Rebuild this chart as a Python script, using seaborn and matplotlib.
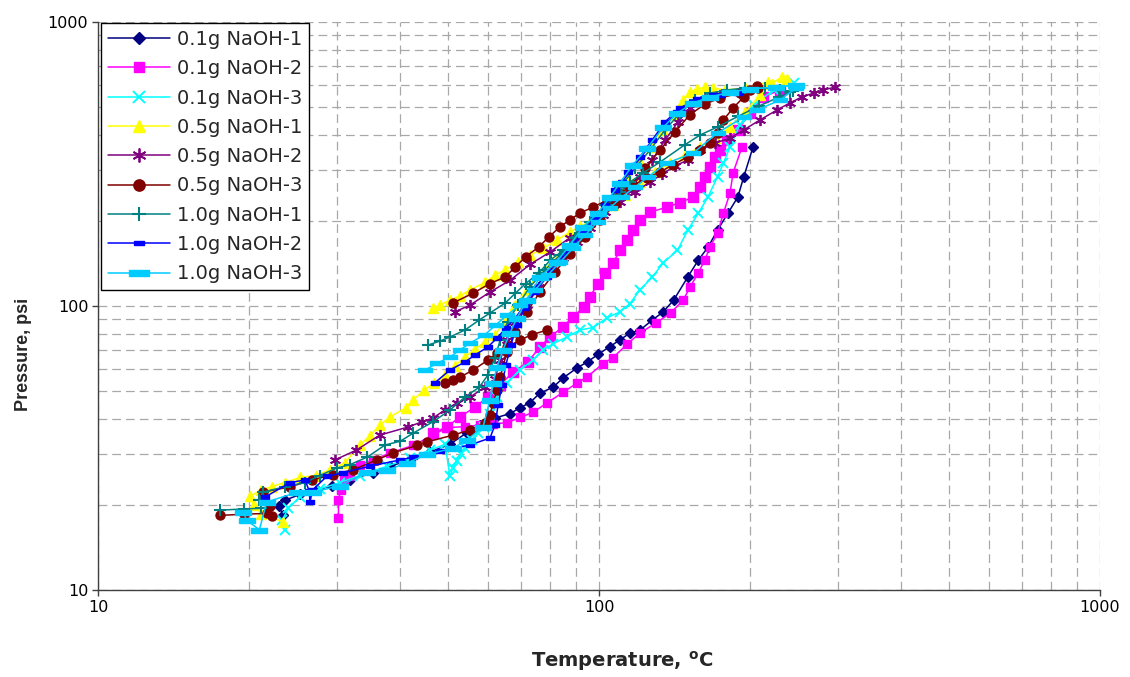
import numpy as np
import matplotlib
matplotlib.use("Agg")
import matplotlib.pyplot as plt
import seaborn as sns
from matplotlib.ticker import FixedLocator, FixedFormatter, LogLocator, NullFormatter

# ---------------- data ----------------
labels = ["0.1g NaOH-1", "0.1g NaOH-2", "0.1g NaOH-3",
          "0.5g NaOH-1", "0.5g NaOH-2", "0.5g NaOH-3",
          "1.0g NaOH-1", "1.0g NaOH-2", "1.0g NaOH-3"]

x_ticks = [10, 100, 1000]
x_tick_labels = ["10", "100", "1000"]
y_ticks = [10, 100, 1000]
y_tick_labels = ["10", "100", "1000"]

# 0.1g NaOH-1
t_01g_1 = [23.4, 23.0, 23.6, 25.3, 27.4, 29.3, 31.8, 35.4, 38.3, 42.0, 46.0, 50.4, 54.5, 57.9, 62.0, 66.4,
           69.6, 72.8, 76.2, 81.0, 84.9, 90.5, 94.9, 99.5, 105.2, 110.1, 115.3, 120.7, 127.8, 134.2, 141.0,
           150.4, 157.8, 165.0, 172.4, 180.8, 189.3, 194.5, 203.0]
p_01g_1 = [18.3, 19.7, 20.7, 21.7, 22.5, 23.3, 24.4, 25.9, 27.3, 28.7, 30.6, 32.6, 35.8, 38.1, 40.3, 41.8,
           43.8, 45.7, 49.3, 51.8, 55.9, 60.6, 63.6, 67.5, 72.0, 76.0, 80.3, 82.2, 89.3, 95.2, 105,
           126.5, 145, 161, 185, 212, 242, 285, 363]

# 0.1g NaOH-2 (two runs)
t_01g_2a = [30.2, 30.2, 30.5, 31.0, 31.8, 33.3, 35.4, 38.3, 42.6, 46.6, 49.7, 54.0, 57.9, 61.5, 65.5, 69.6,
            73.8, 78.8, 84.7, 90.2, 94.5, 101.9, 106.7, 113.9, 120.7, 129.9, 139.0, 147.3, 152.0, 157.8,
            162.5, 166.6, 172.4, 177.2, 182.6, 185.2, 192.9]
p_01g_2a = [17.9, 20.7, 22.5, 24.4, 25.2, 27.6, 28.7, 30.4, 32.3, 35.1, 37.3, 37.6, 38.1, 38.5, 38.8, 40.5,
            42.2, 45.6, 49.6, 53.4, 56.1, 62.7, 65.8, 73.5, 80.3, 87.1, 94.5, 105, 116.7, 130.7,
            145, 161.4, 180.7, 212.5, 250, 294, 363]
t_01g_2b = [46.6, 49.7, 52.8, 56.6, 60.0, 63.5, 67.3, 72.1, 76.2, 79.9, 84.8, 88.7, 93.3, 96.0, 99.4, 102.8,
            106.7, 110.1, 113.7, 116.8, 120.7, 126.4, 136.7, 145.1, 154.0, 159.1, 162.8, 166.6, 170.5,
            174.4, 180.3, 189.3, 200.2, 212.5, 229.8]
p_01g_2b = [35.7, 37.5, 40.7, 44.1, 47.8, 52.7, 58.5, 63.5, 71.7, 77.8, 84.6, 91.4, 99.2, 107.7, 120, 130.6,
            141.7, 157, 171, 185, 201, 214, 223, 231, 242, 262, 285, 308, 335,
            354, 384, 417, 478, 544, 576]

# 0.1g NaOH-3
t_01g_3 = [23.6, 23.3, 24.0, 25.3, 27.7, 30.4, 33.3, 37.8, 42.0, 46.0, 49.3, 50.4, 51.1, 52.0, 53.0, 53.9,
           55.8, 57.4, 59.0, 60.6, 62.6, 65.4, 69.6, 73.8, 77.4, 81.0, 86.3, 91.6, 97.4, 103.8, 110.1,
           115.3, 120.7, 127.8, 134.2, 143.4, 150.4, 157.8, 165.0, 172.4, 177.2, 182.6, 191.0, 204.0,
           223.0, 245.0]
p_01g_3 = [16.3, 17.6, 19.4, 21.3, 22.7, 23.9, 25.3, 27.3, 29.2, 31.1, 32.6, 25.1, 26.9, 28.5, 30.0, 31.6,
           33.7, 35.8, 37.6, 41.6, 47.8, 53.6, 59.5, 64.5, 70.0, 73.7, 77.8, 82.3, 84.0, 90.9, 95.3,
           102, 114, 126.5, 141.7, 157, 185, 212, 242, 285, 319, 363, 434, 510,
           576, 610]

# 0.5g NaOH-1 (two runs)
t_05g_1a = [23.4, 21.2, 20.5, 20.1, 21.2, 22.2, 23.6, 25.3, 27.2, 29.0, 31.1, 33.3, 34.9, 36.5, 38.3, 41.1,
            42.6, 44.8, 46.9, 49.2, 51.5, 54.0, 56.6, 59.2, 62.0, 65.0, 68.1, 71.8, 75.5, 80.6, 85.5,
            90.7, 96.0, 102.0, 107.7, 114.3, 120.7, 127.7, 134.2, 140.9, 147.4, 151.9, 156.9, 162.8,
            169.0, 178.4, 196.0, 217.5, 237.0]
p_05g_1a = [17.4, 18.5, 19.9, 21.4, 22.5, 23.1, 23.9, 24.9, 25.3, 26.5, 28.0, 32.4, 34.9, 38.1, 40.7, 43.7,
            46.7, 50.6, 53.6, 57.1, 61.5, 66.1, 70.6, 74.7, 79.3, 87.9, 100.8, 114, 128.6, 142.7, 159.5,
            178, 197.7, 221.6, 249.9, 285, 321, 363, 417, 472, 531, 567, 581, 590,
            586, 576, 586, 614, 631]
t_05g_1b = [46.6, 48.2, 50.4, 52.8, 55.3, 59.2, 62.0, 65.0, 68.9, 72.8, 77.3, 82.5, 87.5, 91.6, 96.0, 100.5,
            106.7, 112.7, 120.7, 129.3, 138.6, 148.5, 159.1, 170.5, 182.6, 196.0, 209.6, 221.3, 231.4]
p_05g_1b = [98.4, 100.8, 105, 108.6, 114, 121, 128.6, 134, 142.7, 151, 159.5, 171, 182, 191, 197.7, 209,
            227, 246, 273, 296, 319, 340, 363, 390, 427, 482, 553, 607, 640]

# 0.5g NaOH-2 (two runs)
t_05g_2a = [29.7, 32.8, 36.5, 41.6, 44.3, 46.6, 49.2, 52.1, 55.3, 59.2, 62.0, 63.5, 65.5, 68.0, 71.8, 75.8,
            79.9, 84.8, 90.2, 96.0, 102.0, 107.7, 114.3, 120.7, 127.7, 135.5, 143.8, 151.9, 162.8, 174.4,
            191.0]
p_05g_2a = [28.7, 31.1, 35.1, 37.5, 39.1, 40.3, 43.0, 45.6, 47.8, 51.8, 55.4, 64.5, 75.9, 87.9, 100.8, 116.7,
            132, 147.4, 168, 188, 209, 231, 256, 285, 327, 384, 445, 498, 535, 553,
            567]
t_05g_2b = [51.5, 55.3, 60.6, 66.4, 72.8, 79.9, 87.5, 96.0, 102.8, 110.1, 117.9, 126.4, 133.5, 141.8, 150.4,
            159.1, 170.5, 182.6, 194.5, 209.6, 226.6, 240.5, 254.3, 268.3, 280.0, 296.0]
p_05g_2b = [95.2, 100.8, 112, 123, 140, 155, 174, 194, 214, 232, 252, 273, 291, 311, 327,
            354, 375, 390, 417, 452, 490, 519, 545, 562, 576, 590]

# 0.5g NaOH-3 (three runs)
t_05g_3a = [17.5, 19.6, 21.7, 22.2, 22.0, 21.3, 24.2, 26.8, 29.4, 32.3, 36.0, 38.8, 43.3, 45.3, 51.1, 55.3,
            59.2, 60.6, 61.4, 62.6, 63.5, 65.5, 68.0, 71.8, 76.2, 81.7, 87.5, 93.9, 100.5, 107.7, 115.3,
            123.6, 132.3, 141.8, 151.9, 162.8, 174.4, 191.0, 207.7]
p_05g_3a = [18.3, 18.5, 18.6, 18.2, 19.8, 22.1, 23.1, 24.4, 25.5, 26.5, 28.7, 30.4, 32.3, 33.2, 35.1, 36.6,
            38.7, 41.3, 45.6, 50.6, 56.2, 68.9, 81.0, 95.2, 112, 132, 152, 175, 201, 229, 264,
            305, 354, 410, 472, 514, 540, 562, 585]
t_05g_3b = [51.1, 56.1, 60.6, 65.0, 68.1, 71.4, 75.8, 79.5, 83.6, 87.5, 91.6, 97.4, 103.8, 110.1, 116.8,
            124.8, 132.3, 140.3, 150.4, 159.1, 166.6, 172.4, 177.2, 185.2, 194.5, 200.2, 206.7]
p_05g_3b = [102.5, 111, 120, 126.5, 137.4, 149, 161.4, 175.3, 190, 201, 212.5, 223, 236, 250, 266,
            283, 296, 314, 335, 354, 375, 407, 452, 498, 544, 576, 595]
t_05g_3c = [49.2, 51.1, 52.8, 56.1, 60.0, 62.6, 65.5, 69.6, 73.5, 78.8]
p_05g_3c = [53.6, 54.9, 56.2, 59.5, 64.5, 68.3, 71.7, 75.9, 79.3, 82.3]

# 1.0g NaOH-1 (two runs)
t_10g_1a = [17.5, 19.6, 21.2, 21.0, 21.3, 23.6, 25.9, 27.7, 30.0, 31.8, 34.5, 37.4, 40.1, 42.6, 46.6, 50.4,
            54.0, 57.7, 60.0, 62.0, 63.5, 65.7, 68.9, 72.8, 78.0, 83.6, 89.4, 96.0, 102.8, 110.1, 117.9,
            126.4, 135.5, 145.1, 155.5, 166.6, 180.3, 196.0, 214.5, 229.8, 243.8]
p_10g_1a = [19.1, 19.3, 19.4, 20.7, 22.1, 23.1, 23.9, 25.3, 26.9, 27.6, 29.4, 32.4, 33.4, 35.7, 39.1, 43.0,
            47.8, 51.8, 57.1, 65.6, 75.9, 87.9, 100.8, 116.7, 134, 151, 174, 198, 227, 262, 305,
            354, 417, 478, 531, 562, 576, 586, 586, 576, 570]
t_10g_1b = [45.6, 48.2, 50.4, 54.0, 57.7, 60.6, 65.0, 68.1, 71.4, 75.8, 79.9, 84.8, 90.2, 94.9, 99.4, 103.8,
            110.1, 115.3, 122.4, 132.3, 148.2, 159.1, 172.4, 189.3, 208.6, 228.7, 240.5]
p_10g_1b = [72.9, 75.3, 77.8, 82.3, 89.3, 94.5, 102.5, 111, 120, 130.6, 145, 157, 175, 190, 207, 227,
            252, 273, 294, 321, 369, 400, 427, 465, 506, 544, 567]

# 1.0g NaOH-2 (two runs)
t_10g_2a = [21.5, 24.2, 25.9, 26.4, 26.5, 26.8, 28.6, 30.9, 34.9, 40.1, 42.6, 48.2, 55.3, 60.6, 62.0, 62.9,
            64.0, 65.2, 66.7, 68.6, 71.1, 74.3, 78.8, 83.6, 88.7, 93.9, 99.4, 105.2, 111.1, 117.9, 125.3,
            133.5, 143.4, 154.0, 169.0, 189.3]
p_10g_2a = [21.2, 23.9, 24.4, 22.3, 20.4, 22.5, 25.1, 25.9, 27.3, 28.7, 29.4, 30.9, 32.4, 34.3, 38.1, 44.8,
            52.7, 62.0, 72.9, 85.7, 98.4, 112, 126.5, 142.7, 164, 185, 209, 240, 273, 314, 360,
            424, 482, 523, 553, 562]
t_10g_2b = [47.0, 50.4, 54.0, 56.6, 60.0, 62.6, 65.2, 68.1, 71.1, 73.9, 78.0, 82.3, 87.5, 92.9, 98.2, 102.8,
            107.7, 114.3, 120.7, 127.7, 135.5, 145.1, 156.9, 174.4]
p_10g_2b = [53.6, 59.5, 63.5, 67.3, 71.7, 77.2, 83.7, 90.9, 100.8, 114, 127.5, 142.7, 161, 182, 205, 227,
            256, 296, 335, 384, 445, 498, 535, 553]

# 1.0g NaOH-3 (two runs)
t_10g_3a = [19.5, 19.8, 21.0, 21.7, 25.0, 26.9, 30.4, 34.5, 37.8, 41.4, 45.4, 51.1, 54.5, 58.7, 60.6, 61.4,
            62.6, 64.3, 66.4, 68.6, 71.8, 76.2, 82.3, 87.5, 92.9, 99.4, 105.2, 110.1, 116.8, 124.8, 134.5,
            143.4, 154.0, 166.6, 182.6, 200.2, 226.0, 247.5]
p_10g_3a = [18.8, 17.6, 16.3, 20.4, 22.1, 22.1, 23.3, 26.0, 26.5, 28.0, 30.0, 31.6, 33.7, 37.6, 46.7, 53.6,
            61.0, 70.0, 80.3, 90.9, 105, 126.5, 143, 164, 190, 212, 242, 271, 314, 360, 427,
            478, 519, 544, 567, 581, 590, 600]
t_10g_3b = [45.0, 47.5, 50.4, 52.8, 55.3, 59.2, 62.2, 65.5, 69.6, 74.6, 79.1, 83.6, 88.7, 93.9, 99.4, 105.2,
            111.1, 117.9, 125.3, 136.7, 154.0, 172.4, 194.5, 206.7, 229.8, 247.5]
p_10g_3b = [59.5, 62.9, 66.1, 70.0, 74.1, 79.3, 85.7, 92.9, 100.8, 114, 128.6, 142.7, 159.5, 178, 198, 221.6,
            242, 262, 285, 319, 345, 407, 463, 490, 531, 586]

# ---------------- styling ----------------
sns.set_theme(style="ticks")
plt.rcParams["font.family"] = ["DejaVu Sans"]

bar_short = [(-1, -0.45), (1, -0.45), (1, 0.45), (-1, 0.45), (-1, -0.45)]
bar_long = [(-1, -0.3), (1, -0.3), (1, 0.3), (-1, 0.3), (-1, -0.3)]
star = (6, 2, 0)

# label, colour, marker, marker size per run, edge width, runs
series = [
    (labels[0], "#000080", "D", [5.2], 1.0, [(t_01g_1, p_01g_1)]),
    (labels[1], "#FF00FF", "s", [5.5, 7.5], 1.0, [(t_01g_2a, p_01g_2a), (t_01g_2b, p_01g_2b)]),
    (labels[2], "#00FFFF", "x", [6.5], 1.4, [(t_01g_3, p_01g_3)]),
    (labels[3], "#FFFF00", "^", [7.0, 7.0], 1.0, [(t_05g_1a, p_05g_1a), (t_05g_1b, p_05g_1b)]),
    (labels[4], "#800080", star, [8.0, 8.0], 1.3, [(t_05g_2a, p_05g_2a), (t_05g_2b, p_05g_2b)]),
    (labels[5], "#800000", "o", [6.5, 6.5, 6.5],  1.0,
     [(t_05g_3a, p_05g_3a), (t_05g_3b, p_05g_3b), (t_05g_3c, p_05g_3c)]),
    (labels[6], "#008080", "+", [8.5, 8.5], 1.5, [(t_10g_1a, p_10g_1a), (t_10g_1b, p_10g_1b)]),
    (labels[7], "#0000FF", bar_short, [6.0, 6.0], 1.0, [(t_10g_2a, p_10g_2a), (t_10g_2b, p_10g_2b)]),
    (labels[8], "#00CCFF", bar_long, [12.0, 10.5], 1.0, [(t_10g_3a, p_10g_3a), (t_10g_3b, p_10g_3b)]),
]

fig, ax = plt.subplots(figsize=(11.3, 6.77), dpi=100)
fig.subplots_adjust(left=98 / 1130, right=1100 / 1130, bottom=1 - 590 / 677, top=1 - 22 / 677)
ax.set_xscale("log")
ax.set_yscale("log")

for label, color, marker, sizes, mew, runs in series:
    for i, (t, p) in enumerate(runs):
        sns.lineplot(x=t, y=p, ax=ax, sort=False, estimator=None, legend=False,
                     color=color, linewidth=1.1, marker=marker, markersize=sizes[i],
                     markerfacecolor=color, markeredgecolor=color, markeredgewidth=mew,
                     label=label if i == 0 else "_nolegend_")

ax.set_xlim(10, 1000)
ax.set_ylim(10, 1000)
ax.xaxis.set_major_locator(FixedLocator(x_ticks))
ax.xaxis.set_major_formatter(FixedFormatter(x_tick_labels))
ax.yaxis.set_major_locator(FixedLocator(y_ticks))
ax.yaxis.set_major_formatter(FixedFormatter(y_tick_labels))
for axis in (ax.xaxis, ax.yaxis):
    axis.set_minor_locator(LogLocator(base=10, subs=np.arange(2, 10)))
    axis.set_minor_formatter(NullFormatter())

ax.tick_params(which="minor", length=0)
ax.tick_params(which="major", direction="out", length=4, width=1, color="#404040",
               labelsize=11.5, pad=3, labelcolor="black")
ax.set_axisbelow(True)
ax.grid(True, which="both", axis="both", color="#a8a8a8", linestyle=(0, (7, 4)), linewidth=0.9)

for side in ("top", "right"):
    ax.spines[side].set_visible(False)
for side in ("left", "bottom"):
    ax.spines[side].set_color("#404040")
    ax.spines[side].set_linewidth(1.0)

ax.set_xlabel(r"Temperature, $^{\mathbf{o}}$C", fontsize=14, fontweight="bold")
ax.set_ylabel("Pressure, psi", fontsize=13, fontweight="bold",
              family=["Liberation Sans", "DejaVu Sans"])
ax.xaxis.set_label_coords(0.523, -0.104)
ax.yaxis.set_label_coords(-0.066, 0.414)

handles, labs = ax.get_legend_handles_labels()
leg = ax.legend(handles, labs, loc="upper left", bbox_to_anchor=(0.003, 0.998), borderaxespad=0,
                frameon=True, fancybox=False, edgecolor="black", framealpha=1, fontsize=14,
                handlelength=3.2, handletextpad=0.35, labelspacing=0.53, borderpad=0.35,
                markerscale=1.25)
leg.get_frame().set_linewidth(1.0)

fig.savefig("out.png", dpi=100)
